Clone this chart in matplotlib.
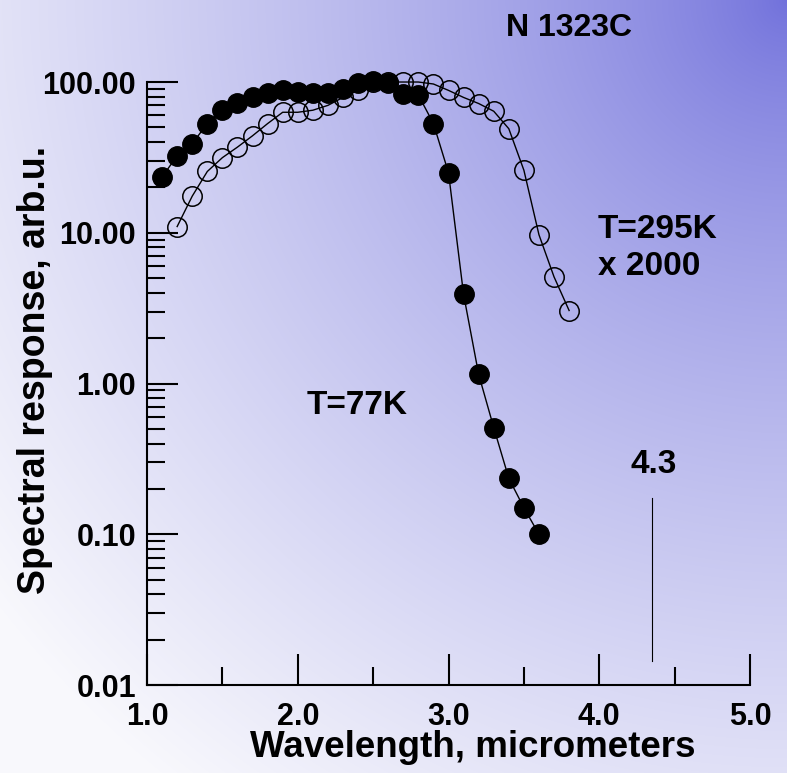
import numpy as np
import matplotlib.pyplot as plt
from matplotlib.ticker import FixedLocator, LogLocator, NullFormatter

plt.rcParams['font.family'] = ['Liberation Sans', 'DejaVu Sans']
plt.rcParams['font.weight'] = 'bold'

# T=77K (filled circles)
wl_77 = [1.1, 1.2, 1.3, 1.4, 1.5, 1.6, 1.7, 1.8, 1.9, 2.0, 2.1, 2.2, 2.3, 2.4,
         2.5, 2.6, 2.7, 2.8, 2.9, 3.0, 3.1, 3.2, 3.3, 3.4, 3.5, 3.6]
resp_77 = [23.4, 32.5, 39, 53, 65, 73, 80, 84, 88, 86, 84.5, 84, 90, 98,
           101, 98, 83, 82, 53, 25, 3.9, 1.15, 0.51, 0.235, 0.15, 0.10]

# T=295K x 2000 (open circles)
wl_295 = [1.2, 1.3, 1.4, 1.5, 1.6, 1.7, 1.8, 1.9, 2.0, 2.1, 2.2, 2.3, 2.4, 2.5,
          2.6, 2.7, 2.8, 2.9, 3.0, 3.1, 3.2, 3.3, 3.4, 3.5, 3.6, 3.7, 3.8]
resp_295 = [11, 17.5, 25.5, 31.5, 37, 44, 53, 63, 63, 65, 70, 79, 88, 100,
            100, 100, 100, 97, 88, 79, 72, 64, 49, 26, 9.7, 5.1, 3.05]

# 4.3 marker line
mark_x = 4.35
mark_y = [0.0145, 0.175]

fig = plt.figure(figsize=(7.87, 7.73), dpi=100)

# background gradient, darkest at the top-right corner
bg = fig.add_axes([0, 0, 1, 1], zorder=0)
h, w = 773, 787
yy, xx = np.mgrid[0:h, 0:w]
d = np.sqrt((xx - w) ** 2 + yy ** 2)
m = np.clip(d / 1000, 0, 1) ** 0.75
c0 = np.array([0.44, 0.44, 0.86])
c1 = np.array([0.975, 0.975, 0.99])
img = c0 + (c1 - c0) * m[..., None]
bg.imshow(img, aspect='auto', extent=[0, 1, 0, 1])
bg.axis('off')

ax = fig.add_axes([0.1868, 0.1138, 0.7662, 0.7801], zorder=1)
ax.patch.set_alpha(0)

ax.plot(wl_295, resp_295, color='black', lw=1, marker='o', ms=14,
        mfc='none', mec='black', mew=1.1, clip_on=False)
ax.plot(wl_77, resp_77, color='black', lw=1, marker='o', ms=14,
        mfc='black', mec='black', clip_on=False)
ax.plot([mark_x, mark_x], mark_y, color='black', lw=0.8)

ax.set_yscale('log')
ax.set_xlim(1.0, 5.0)
ax.set_ylim(0.01, 100)

ax.spines['top'].set_visible(False)
ax.spines['right'].set_visible(False)
ax.spines['left'].set_linewidth(1.5)
ax.spines['bottom'].set_linewidth(1.5)

ax.xaxis.set_major_locator(FixedLocator([1, 2, 3, 4, 5]))
ax.xaxis.set_minor_locator(FixedLocator([1.5, 2.5, 3.5, 4.5]))
ax.set_xticklabels(['1.0', '2.0', '3.0', '4.0', '5.0'])
ax.yaxis.set_major_locator(FixedLocator([0.01, 0.1, 1, 10, 100]))
ax.yaxis.set_minor_locator(LogLocator(base=10, subs=np.arange(2, 10)))
ax.yaxis.set_minor_formatter(NullFormatter())
ax.set_yticklabels(['0.01', '0.10', '1.00', '10.00', '100.00'])

ax.tick_params(axis='both', which='major', direction='in', length=22, width=1.5,
               labelsize=22)
ax.tick_params(axis='both', which='minor', direction='in', length=13, width=1.5)
ax.tick_params(axis='y', which='major', pad=8)
ax.tick_params(axis='x', which='major', pad=12)

ax.set_xlabel('Wavelength, micrometers', fontsize=26.5, fontweight='bold')
ax.set_ylabel('Spectral response, arb.u.', fontsize=27, fontweight='bold')
ax.xaxis.set_label_coords(0.541, -0.104)
ax.xaxis.label.set_va('center')
ax.yaxis.set_label_coords(-0.186, 0.522)
ax.yaxis.label.set_va('center')

fig.text(0.643, 0.964, 'N 1323C', fontsize=23, fontweight='bold', ha='left', va='center')
ax.text(3.99, 10.5, 'T=295K', fontsize=24, fontweight='bold', ha='left', va='center')
ax.text(3.99, 6.0, 'x 2000', fontsize=24, fontweight='bold', ha='left', va='center')
ax.text(2.06, 0.72, 'T=77K', fontsize=24, fontweight='bold', ha='left', va='center')
ax.text(4.36, 0.29, '4.3', fontsize=24, fontweight='bold', ha='center', va='center')

plt.savefig('out.png', dpi=100)
